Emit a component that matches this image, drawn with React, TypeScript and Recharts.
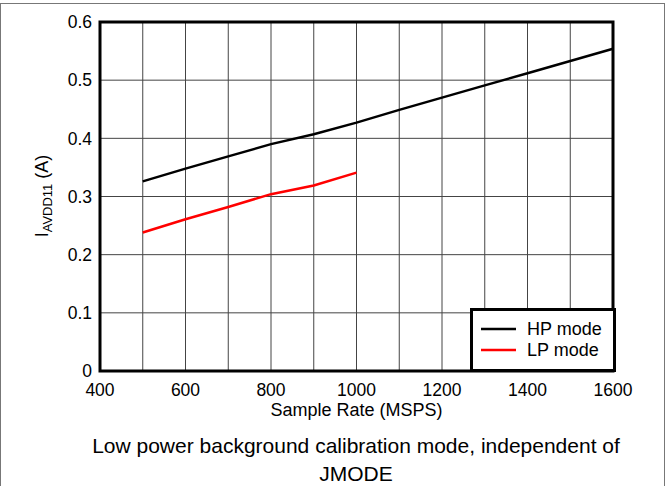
import { LineChart, Line, XAxis, YAxis, CartesianGrid, ReferenceArea, Legend } from 'recharts'

// sample rate (MSPS) and supply current (A)
const rates = [500, 600, 700, 800, 900, 1000, 1100, 1200, 1300, 1400, 1500, 1600]
const hpMode = [0.326, 0.348, 0.369, 0.39, 0.407, 0.427, 0.449, 0.47, 0.491, 0.512, 0.533, 0.554]
const lpMode = [0.238, 0.261, 0.282, 0.304, 0.319, 0.341]

const xTicks = [400, 600, 800, 1000, 1200, 1400, 1600]
const xGrid = [400, 500, 600, 700, 800, 900, 1000, 1100, 1200, 1300, 1400, 1500, 1600]
const yTicks = [0, 0.1, 0.2, 0.3, 0.4, 0.5, 0.6]

const FONT = '"Liberation Sans", Arial, Helvetica, sans-serif'

const data = rates.map((r, i) => ({
  rate: r,
  hp: hpMode[i],
  lp: i < lpMode.length ? lpMode[i] : null,
}))

const YLabel = () => (
  <text transform="translate(48,196) rotate(-90)" textAnchor="middle" fontSize={18} fill="#000" fontFamily={FONT}>
    <tspan>I</tspan>
    <tspan dy={4} fontSize={13}>AVDD11</tspan>
    <tspan dy={-4}> (A)</tspan>
  </text>
)

const XLabel = ({ viewBox }: any) => (
  <text x={viewBox.x + viewBox.width / 2} y={416} textAnchor="middle" fontSize={18} fill="#000" fontFamily={FONT}>
    Sample Rate (MSPS)
  </text>
)

const LegendBox = () => (
  <svg width={146} height={64} style={{ display: 'block' }}>
    <rect x={1.5} y={1.5} width={143} height={61} fill="#fff" stroke="#000" strokeWidth={3} />
    <line x1={11} x2={46} y1={21} y2={21} stroke="#000" strokeWidth={2.5} />
    <line x1={11} x2={46} y1={42} y2={42} stroke="#ff0000" strokeWidth={2.5} />
    <text x={57} y={27} fontSize={18} fontFamily={FONT} fill="#000">HP mode</text>
    <text x={57} y={48} fontSize={18} fontFamily={FONT} fill="#000">LP mode</text>
  </svg>
)

export default function App() {
  return (
    <div style={{ position: 'absolute', left: 0, top: 0, width: 666, height: 486, background: '#fff', overflow: 'hidden', fontFamily: FONT }}>
      <div style={{ position: 'absolute', left: 0, top: 3, width: 665, height: 600, border: '1px solid #777', boxSizing: 'border-box' }} />
      <LineChart width={666} height={486} data={data} margin={{ top: 22, right: 53, left: 40, bottom: 85 }}>
        <CartesianGrid stroke="#444" strokeWidth={1} verticalValues={xGrid} horizontalValues={yTicks} />
        <XAxis
          dataKey="rate" type="number" domain={[400, 1600]} ticks={xTicks}
          axisLine={false} tickLine={false} tickMargin={7} height={30}
          tick={{ fontSize: 17.5, fill: '#000', fontFamily: FONT }}
          label={<XLabel />}
        />
        <YAxis
          type="number" domain={[0, 0.6]} ticks={yTicks} width={60}
          axisLine={false} tickLine={false}
          tick={{ fontSize: 17.5, fill: '#000', fontFamily: FONT }}
          tickFormatter={v => (v === 0 ? '0' : v.toFixed(1))}
          label={<YLabel />}
        />
        <ReferenceArea x1={400} x2={1600} y1={0} y2={0.6} fill="none" stroke="#000" strokeWidth={3} />
        <Line dataKey="hp" stroke="#000" strokeWidth={2.5} dot={false} isAnimationActive={false} />
        <Line dataKey="lp" stroke="#ff0000" strokeWidth={2.5} dot={false} isAnimationActive={false} />
        <Legend
          layout="horizontal" verticalAlign="middle" align="center"
          content={<LegendBox />}
          wrapperStyle={{ left: 470, top: 308, width: 146, height: 64 }}
        />
      </LineChart>
      <div style={{ position: 'absolute', left: 0, top: 432, width: 712, textAlign: 'center', fontSize: 21, lineHeight: '28px', color: '#000' }}>
        <div>Low power background calibration mode, independent of</div>
        <div>JMODE</div>
      </div>
    </div>
  )
}
